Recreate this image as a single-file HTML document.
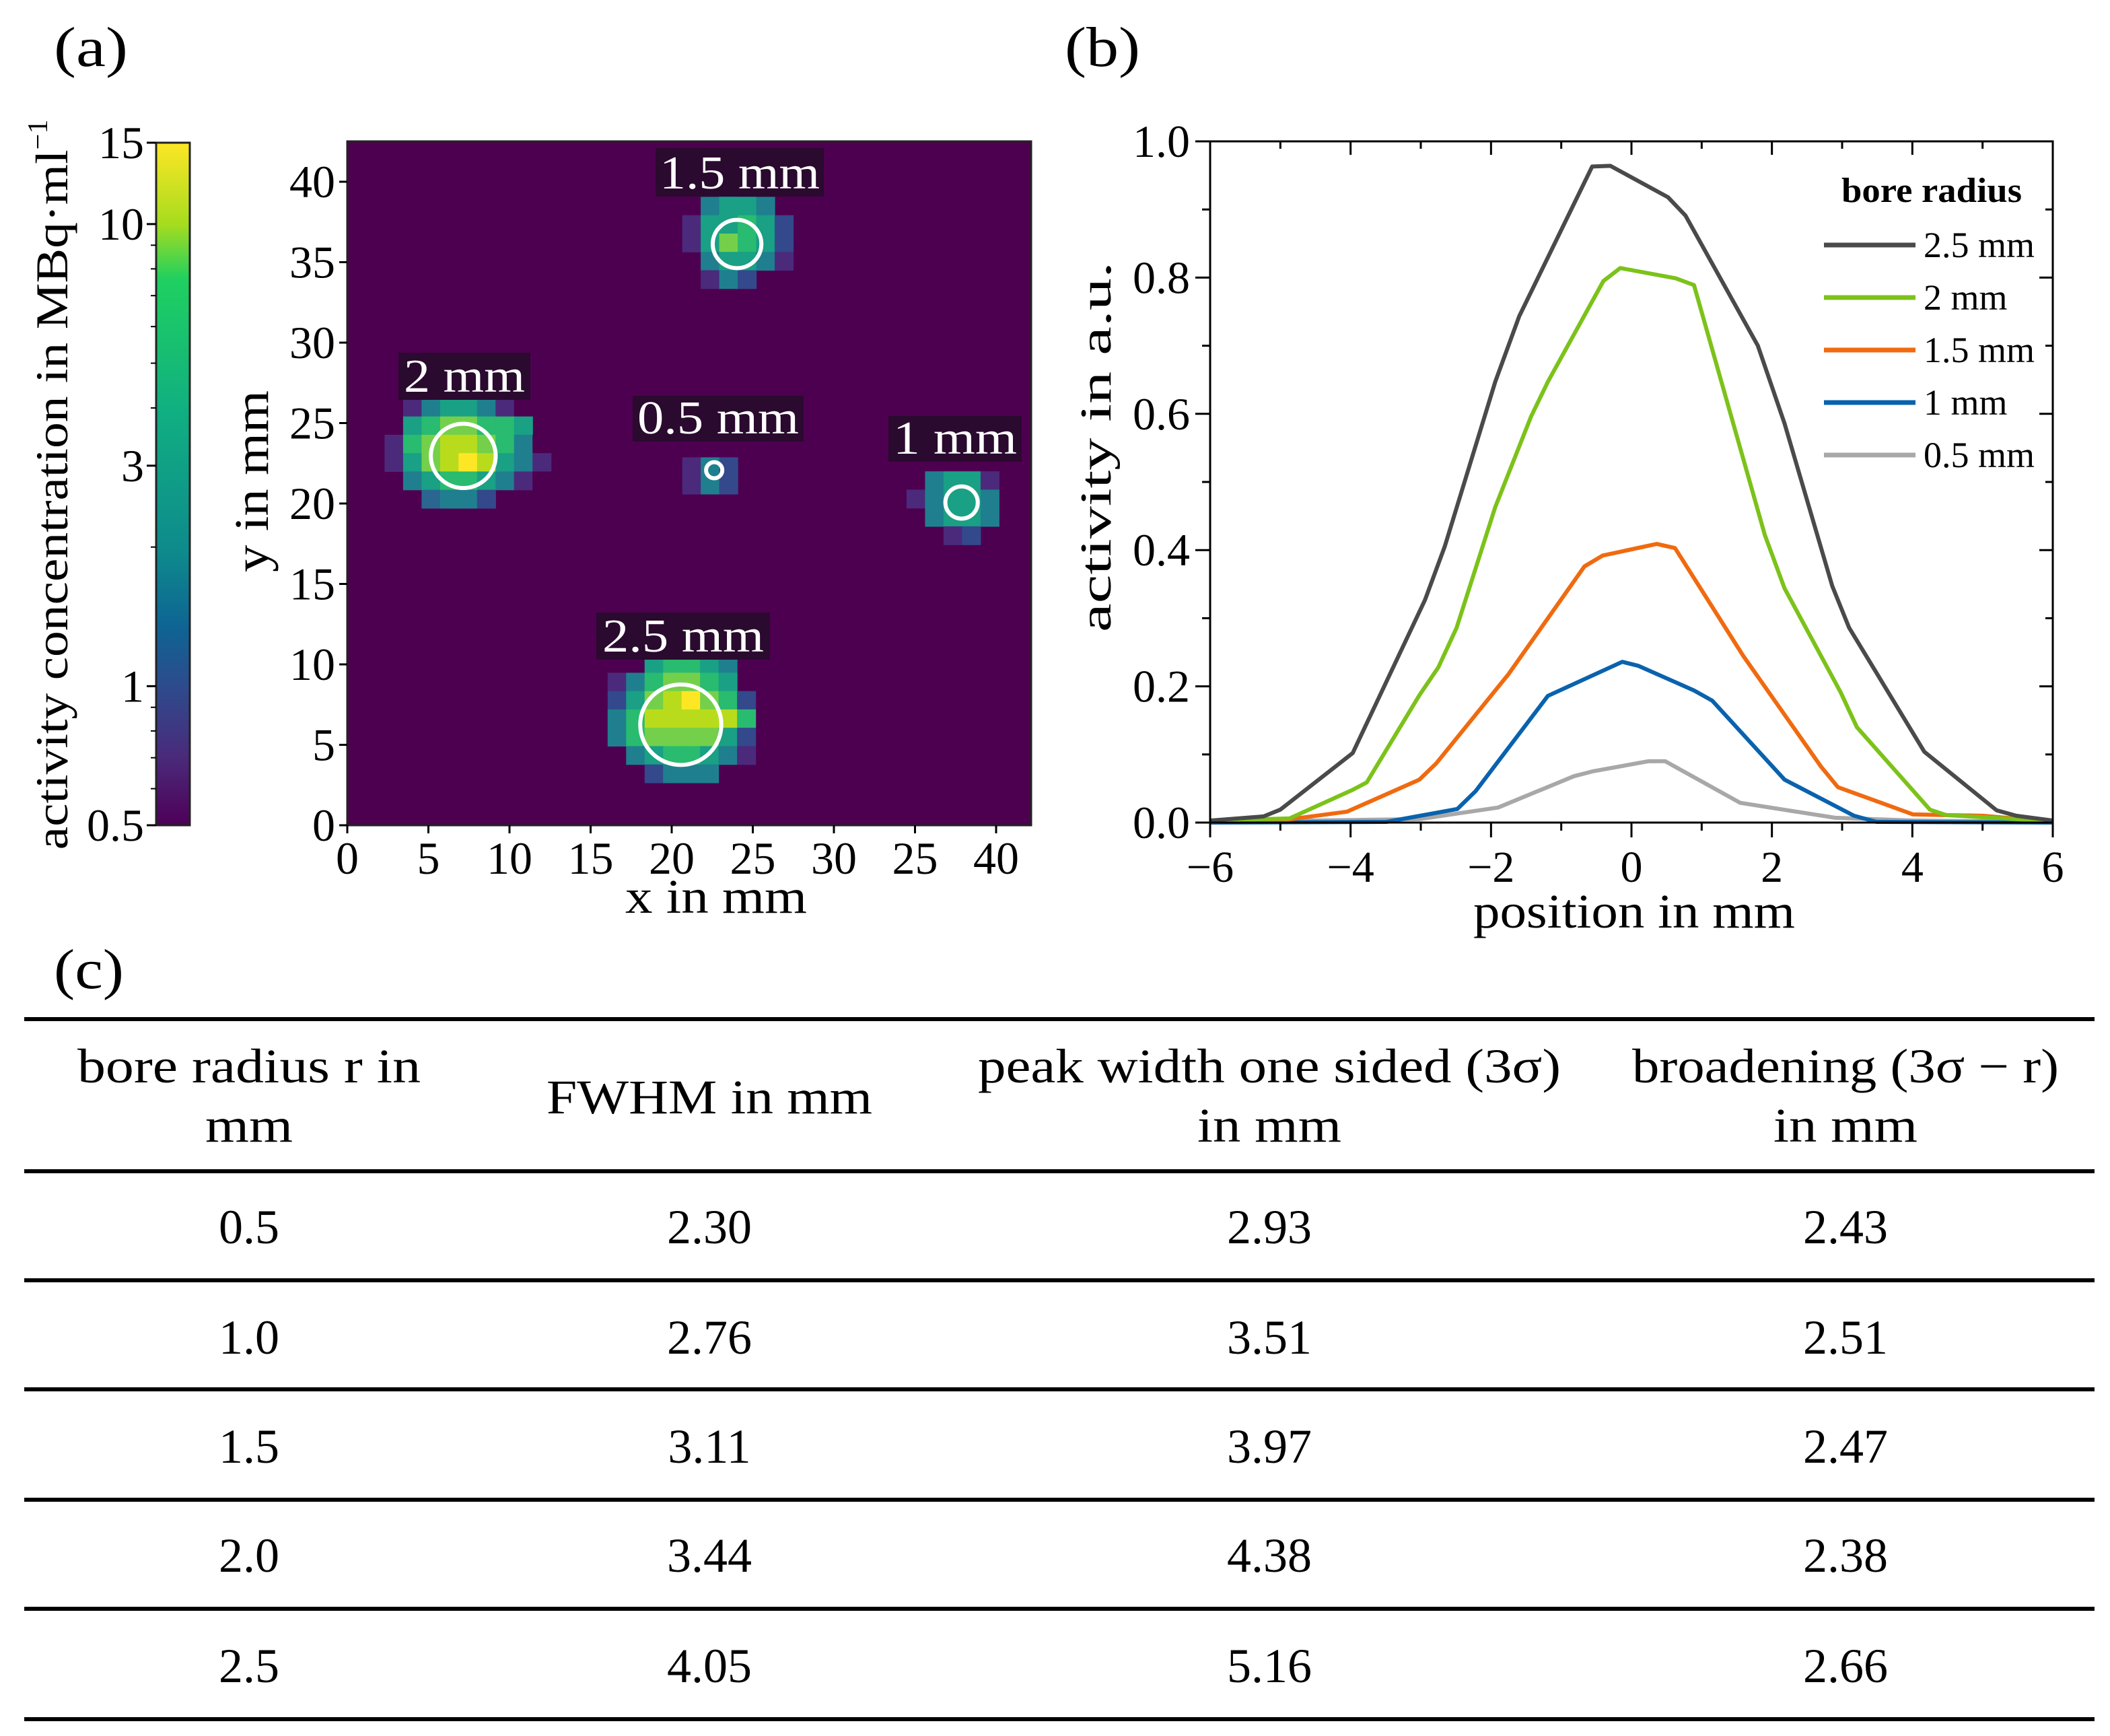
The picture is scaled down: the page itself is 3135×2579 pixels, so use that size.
<!DOCTYPE html>
<html><head><meta charset="utf-8"><style>
html,body{margin:0;padding:0;background:#fff;width:3135px;height:2579px;overflow:hidden}
text{font-family:"Liberation Serif",serif;fill:#000}
.tk{font-family:"Liberation Serif",serif;font-size:68px}
</style></head><body>
<svg id="fig" width="3135" height="2579" viewBox="0 0 3135 2579" xmlns="http://www.w3.org/2000/svg">
<defs>
<linearGradient id="vir" x1="0" y1="0" x2="0" y2="1">
<stop offset="0" stop-color="#fde725"/><stop offset="0.12" stop-color="#a6dc1e"/><stop offset="0.2" stop-color="#1fd060"/>
<stop offset="0.4" stop-color="#10ae82"/><stop offset="0.6" stop-color="#0e8a8c"/><stop offset="0.71" stop-color="#0e6494"/>
<stop offset="0.8" stop-color="#2e4a8c"/><stop offset="0.9" stop-color="#4a2a7a"/><stop offset="1" stop-color="#4e0058"/>
</linearGradient>
</defs>
<text x="80" y="98" font-size="84" textLength="110" lengthAdjust="spacingAndGlyphs">(a)</text>
<text x="1582" y="98" font-size="84" textLength="112" lengthAdjust="spacingAndGlyphs">(b)</text>
<text x="80" y="1468" font-size="84" textLength="104" lengthAdjust="spacingAndGlyphs">(c)</text>
<g id="cbar"></g>
<g id="heat"></g>
<g id="prof"></g>
<g id="tbl"></g>
</svg>
<script>
// ---------- colorbar data ----------
const cbTicks=[15,10,3,1,0.5];
const cbMinor=[9,8,7,6,5,4,2,0.9,0.8,0.7,0.6];
// ---------- heatmap data ----------
const hmXTicks=[0,5,10,15,20,25,30,35,40];
const hmXTickLabels=["0","5","10","15","20","25","30","25","40"];
const hmYTicks=[0,5,10,15,20,25,30,35,40];
const levelColors=["#4e0050","#4b2a7c","#33498c","#2a6690","#1f7f8e","#19a085","#29bb6f","#74d04a","#b8dc1c","#fde725"];
const blobX0=[16.05,2.30,20.65,20.65,34.48];
const blobY0=[11.76,27.69,40.2,22.87,22.0];
const blobRows=[
 ["..22222.","..56654.","1467765.","25789762","46888886","46777752",".4566541","..2444.."],
 ["...22.....",".1455410..",".5677665..","167887640.","157898541.",".456654100","..3442...."],
 ["..21...",".4554..","155652.","157652.",".45541.",".142..."],
 ["142","142"],
 [".4551.","14554.",".4554.","..12.."]
];
const cellMM=1.14;
const circleX=[20.56,7.15,24.03,22.62,37.87];
const circleY=[6.25,22.96,36.13,22.07,20.06];
const circleR=[2.5,2.0,1.5,0.5,1.0];
const labelText=["2.5 mm","2 mm","1.5 mm","0.5 mm","1 mm"];
const labelBox=[[886,910,258,70],[592,524,196,70],[974,220,250,72],[940,588,254,68],[1320,618,198,68]];
const labelLen=[240,180,238,240,184];
// ---------- profile data ----------
const pX25=[-5.99,-5.24,-5.0,-3.97,-2.94,-2.66,-1.94,-1.60,-0.56,-0.30,0.52,0.77,1.80,2.18,2.86,3.10,4.17,5.20,5.48,6.0];
const pY25=[0.003,0.009,0.019,0.102,0.327,0.405,0.647,0.743,0.963,0.964,0.918,0.891,0.70,0.586,0.347,0.286,0.104,0.018,0.010,0.003];
const pX20=[-6.0,-4.87,-3.97,-3.77,-3.02,-2.75,-2.49,-1.94,-1.43,-1.19,-0.40,-0.16,0.63,0.89,1.90,2.18,2.98,3.21,4.25,4.48,6.0];
const pY20=[0.003,0.006,0.048,0.059,0.187,0.228,0.286,0.463,0.596,0.647,0.795,0.814,0.799,0.789,0.422,0.344,0.191,0.14,0.019,0.011,0.002];
const pX15=[-6,-5.0,-4.05,-3.02,-2.78,-1.75,-0.67,-0.41,0.36,0.62,1.59,2.70,2.94,4.01,5.0,6.0];
const pY15=[0.001,0.003,0.016,0.063,0.087,0.218,0.376,0.392,0.409,0.403,0.245,0.082,0.052,0.012,0.010,0.001];
const pX10=[-6,-3.49,-2.48,-2.22,-1.19,-0.13,0.10,0.89,1.15,2.18,3.17,3.49,6];
const pY10=[0,0.001,0.020,0.046,0.186,0.236,0.230,0.194,0.179,0.063,0.010,0.001,0];
const pX05=[-6,-3.02,-1.90,-0.82,-0.56,0.24,0.48,1.55,2.90,4.01,6];
const pY05=[0.001,0.005,0.022,0.068,0.075,0.09,0.09,0.029,0.007,0.003,0.001];
const seriesNames=["2.5 mm","2 mm","1.5 mm","1 mm","0.5 mm"];
const seriesColors=["#4a4a4a","#7cc21a","#f06a10","#0a62ad","#a8a8a8"];
const pXTicks=[-6,-4,-2,0,2,4,6];
const pYTicks=[0,0.2,0.4,0.6,0.8,1.0];
// ---------- table data ----------
const tHead1=["bore radius r in","","peak width one sided (3σ)","broadening (3σ − r)"];
const tHead2=["mm","FWHM in mm","in mm","in mm"];
const tHead1Len=[510,0,866,634];
const tHead2Len=[130,484,214,214];
const colR=["0.5","1.0","1.5","2.0","2.5"];
const colF=["2.30","2.76","3.11","3.44","4.05"];
const colP=["2.93","3.51","3.97","4.38","5.16"];
const colB=["2.43","2.51","2.47","2.38","2.66"];

const NS="http://www.w3.org/2000/svg";
function mk(p,tag,a,txt){const e=document.createElementNS(NS,tag);for(const k in a)e.setAttribute(k,a[k]);if(txt!==undefined)e.textContent=txt;p.appendChild(e);return e;}

// colorbar
const cb=document.getElementById('cbar');
const cbTop=212,cbBot=1226,cbL=232,cbR=282;
const cbY=v=>cbBot-(Math.log10(v)-Math.log10(0.5))/(Math.log10(15)-Math.log10(0.5))*(cbBot-cbTop);
let r=mk(cb,'rect',{x:cbL,y:cbTop,width:cbR-cbL,height:cbBot-cbTop,fill:'url(#vir)',stroke:'#222','stroke-width':3});

cbTicks.forEach(v=>{const y=cbY(v);
 let l=mk(cb,'line',{x1:cbL-14,x2:cbL,y1:y,y2:y,stroke:'#000','stroke-width':3});
 
 let t=mk(cb,'text',{x:cbL-18,y:y+23,'text-anchor':'end',class:'tk'},String(v));
 });
cbMinor.forEach(v=>{const y=cbY(v);let l=mk(cb,'line',{x1:cbL-8,x2:cbL,y1:y,y2:y,stroke:'#000','stroke-width':2});
 });
let cbt=mk(cb,'text',{x:0,y:0,'font-size':68,'text-anchor':'middle',transform:'translate(100,720) rotate(-90)'});

let cbm=mk(cbt,'tspan',{textLength:1040,lengthAdjust:'spacingAndGlyphs'},'activity concentration in MBq·ml');
let sup=mk(cbt,'tspan',{'font-size':42,dy:-30},'−1');

// heatmap
const hm=document.getElementById('heat');
const hL=516,hR=1532,hT=210,hB=1226,pxmm=24.1,pymm=23.9;
const hx=v=>hL+v*pxmm, hy=v=>hB-v*pymm;
let bg=mk(hm,'rect',{x:hL,y:hT,width:hR-hL,height:hB-hT,fill:levelColors[0]});

blobRows.forEach((rows,b)=>{rows.forEach((row,ri)=>{[...row].forEach((c,ci)=>{if(c==='.')return;
 const x0=hx(blobX0[b]+ci*cellMM),y0=hy(blobY0[b]-ri*cellMM);
 const cell=mk(hm,'rect',{x:x0,y:y0,width:cellMM*pxmm+0.6,height:cellMM*pymm+0.6,fill:levelColors[+c]});
 });});});
circleX.forEach((cx,i)=>{const c=mk(hm,'ellipse',{cx:hx(cx),cy:hy(circleY[i]),rx:circleR[i]*pxmm,ry:circleR[i]*pymm,fill:'none',stroke:'#fff','stroke-width':6});
 });
labelText.forEach((s,i)=>{const b=labelBox[i];
 const bx=mk(hm,'rect',{x:b[0],y:b[1],width:b[2],height:b[3],fill:'#2a0a2e'});
 
 const t=mk(hm,'text',{x:b[0]+b[2]/2,y:b[1]+b[3]-12,'text-anchor':'middle','font-size':70,style:'fill:#fff',textLength:labelLen[i],lengthAdjust:'spacingAndGlyphs'},s);
 });
let fr=mk(hm,'rect',{x:hL,y:hT,width:hR-hL,height:hB-hT,fill:'none',stroke:'#222','stroke-width':3});

hmXTicks.forEach((v,i)=>{const x=hx(v);
 let l=mk(hm,'line',{x1:x,x2:x,y1:hB,y2:hB+12,stroke:'#000','stroke-width':3});
 
 let t=mk(hm,'text',{x:x,y:hB+72,'text-anchor':'middle',class:'tk'},hmXTickLabels[i]);
 });
hmYTicks.forEach(v=>{const y=hy(v);
 let l=mk(hm,'line',{x1:hL-12,x2:hL,y1:y,y2:y,stroke:'#000','stroke-width':3});
 
 let t=mk(hm,'text',{x:hL-18,y:y+23,'text-anchor':'end',class:'tk'},String(v));
 });
let hxt=mk(hm,'text',{x:1064,y:1356,'text-anchor':'middle','font-size':72,textLength:270,lengthAdjust:'spacingAndGlyphs'},'x in mm');

let hyt=mk(hm,'text',{x:0,y:0,'text-anchor':'middle','font-size':72,transform:'translate(398,715) rotate(-90)',textLength:270,lengthAdjust:'spacingAndGlyphs'},'y in mm');


// profile chart
const pr=document.getElementById('prof');
const pL=1798,pR=3050,pT=210,pB=1222;
const px=v=>pL+(v+6)/12*(pR-pL), py=v=>pB-v*(pB-pT);
const allX=[pX05,pX10,pX15,pX20,pX25], allY=[pY05,pY10,pY15,pY20,pY25];
const idxOf=[4,3,2,1,0];
for(let k=0;k<5;k++){const xs=allX[k],ys=allY[k];const si=idxOf[k];
 const d=xs.map((x,i)=>(i?'L':'M')+px(x).toFixed(1)+','+py(ys[i]).toFixed(1)).join('');
 const p=mk(pr,'path',{d:d,fill:'none',stroke:seriesColors[si],'stroke-width':6,'stroke-linejoin':'round'});
 }
let pf=mk(pr,'rect',{x:pL,y:pT,width:pR-pL,height:pB-pT,fill:'none',stroke:'#000','stroke-width':3});

pXTicks.forEach(v=>{const x=px(v);
 let l=mk(pr,'line',{x1:x,x2:x,y1:pB,y2:pB+22,stroke:'#000','stroke-width':3});
 let l2=mk(pr,'line',{x1:x,x2:x,y1:pT,y2:pT+20,stroke:'#000','stroke-width':3});
 let t=mk(pr,'text',{x:x,y:pB+88,'text-anchor':'middle','font-size':66},(v<0?'−':'')+Math.abs(v));
 
 if(v<6){const xm=px(v+1);
  let m=mk(pr,'line',{x1:xm,x2:xm,y1:pB,y2:pB+12,stroke:'#000','stroke-width':3});
  let m2=mk(pr,'line',{x1:xm,x2:xm,y1:pT,y2:pT+11,stroke:'#000','stroke-width':3});}});
pYTicks.forEach(v=>{const y=py(v);
 let l=mk(pr,'line',{x1:pL-22,x2:pL,y1:y,y2:y,stroke:'#000','stroke-width':3});
 let l2=mk(pr,'line',{x1:pR-20,x2:pR,y1:y,y2:y,stroke:'#000','stroke-width':3});
 let t=mk(pr,'text',{x:pL-30,y:y+23,'text-anchor':'end',class:'tk'},v.toFixed(1));
 
 if(v<1){const ym=py(v+0.1);
  let m=mk(pr,'line',{x1:pL-12,x2:pL,y1:ym,y2:ym,stroke:'#000','stroke-width':3});
  let m2=mk(pr,'line',{x1:pR-11,x2:pR,y1:ym,y2:ym,stroke:'#000','stroke-width':3});}});
let pxt=mk(pr,'text',{x:2428,y:1378,'text-anchor':'middle','font-size':72,textLength:478,lengthAdjust:'spacingAndGlyphs'},'position in mm');

let pyt=mk(pr,'text',{x:0,y:0,'text-anchor':'middle','font-size':66,transform:'translate(1650,664) rotate(-90)',textLength:550,lengthAdjust:'spacingAndGlyphs'},'activity in a.u.');

let lgt=mk(pr,'text',{x:2870,y:300,'text-anchor':'middle','font-size':52,'font-weight':'bold',textLength:268,lengthAdjust:'spacingAndGlyphs'},'bore radius');

seriesNames.forEach((s,i)=>{const y=364+i*78;
 let l=mk(pr,'line',{x1:2710,x2:2846,y1:y,y2:y,stroke:seriesColors[i],'stroke-width':7});
 
 let t=mk(pr,'text',{x:2858,y:y+18,'font-size':54},s);
 });

// table
const tb=document.getElementById('tbl');
const lineY=[1514,1740,1902,2064,2228,2390,2554];
lineY.forEach(y=>{let l=mk(tb,'line',{x1:36,x2:3112,y1:y,y2:y,stroke:'#000','stroke-width':6});
 });
const colX=[370,1054,1886,2742];
tHead1.forEach((s,i)=>{if(!s)return;let t=mk(tb,'text',{x:colX[i],y:1608,'text-anchor':'middle','font-size':72,textLength:tHead1Len[i],lengthAdjust:'spacingAndGlyphs'},s);
 });
tHead2.forEach((s,i)=>{let t=mk(tb,'text',{x:colX[i],y:i===1?1654:1696,'text-anchor':'middle','font-size':72,textLength:tHead2Len[i],lengthAdjust:'spacingAndGlyphs'},s);
 });
const cols=[colR,colF,colP,colB];
const rowY=[1847,2011,2173,2335,2499];
cols.forEach((col,ci)=>col.forEach((v,ri)=>{let t=mk(tb,'text',{x:colX[ci],y:rowY[ri],'text-anchor':'middle','font-size':72},v);
 }));
</script>
</body></html>
